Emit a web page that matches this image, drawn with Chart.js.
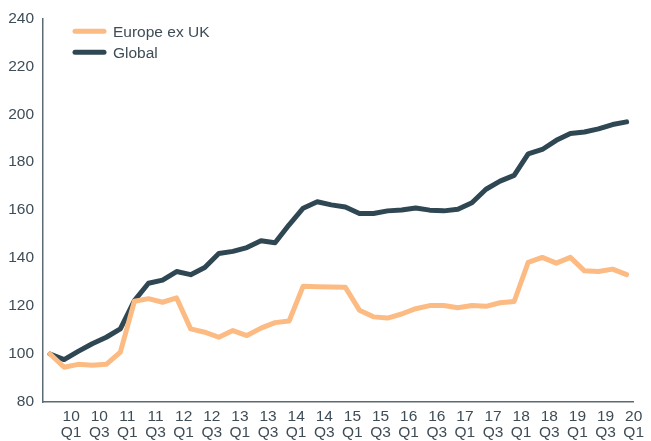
<!DOCTYPE html>
<html>
<head>
<meta charset="utf-8">
<script src="https://cdn.jsdelivr.net/npm/chart.js@4/dist/chart.umd.min.js"></script>
<style>
  html, body { margin: 0; padding: 0; background: #ffffff; }
  #wrap { width: 651px; height: 441px; position: relative; }
</style>
</head>
<body>
<div id="wrap"><canvas id="c"></canvas></div>
<script>
// Quarterly index values, 09 Q4 .. 20 Q1
const quarters = ['09 Q4',
  '10 Q1','10 Q2','10 Q3','10 Q4','11 Q1','11 Q2','11 Q3','11 Q4',
  '12 Q1','12 Q2','12 Q3','12 Q4','13 Q1','13 Q2','13 Q3','13 Q4',
  '14 Q1','14 Q2','14 Q3','14 Q4','15 Q1','15 Q2','15 Q3','15 Q4',
  '16 Q1','16 Q2','16 Q3','16 Q4','17 Q1','17 Q2','17 Q3','17 Q4',
  '18 Q1','18 Q2','18 Q3','18 Q4','19 Q1','19 Q2','19 Q3','19 Q4',
  '20 Q1'];
const europeExUK = [100, 94.5, 95.7, 95.3, 95.7, 100.8, 122.0, 123.1, 121.6, 123.4,
  110.5, 109.1, 107.0, 109.8, 107.7, 110.8, 113.1, 113.8, 128.3, 128.1,
  128.0, 127.8, 118.3, 115.5, 115.0, 116.7, 118.9, 120.2, 120.2, 119.3,
  120.2, 119.9, 121.4, 121.9, 138.2, 140.3, 137.9, 140.3, 134.7, 134.4,
  135.4, 133.1];
const globalIdx = [100, 97.7, 101.1, 104.3, 107.0, 110.5, 122.3, 129.5, 130.8, 134.4,
  133.1, 136.1, 141.9, 142.8, 144.4, 147.2, 146.4, 153.9, 160.8, 163.5,
  162.2, 161.3, 158.6, 158.6, 159.7, 160.1, 160.9, 160.0, 159.7, 160.4,
  163.1, 168.7, 172.1, 174.5, 183.5, 185.3, 189.1, 192.0, 192.6, 193.9,
  195.7, 196.8];
const tickLabels = ['10 Q1','10 Q3','11 Q1','11 Q3','12 Q1','12 Q3','13 Q1','13 Q3',
  '14 Q1','14 Q3','15 Q1','15 Q3','16 Q1','16 Q3','17 Q1','17 Q3',
  '18 Q1','18 Q3','19 Q1','19 Q3','20 Q1'];
const yTicks = [80, 100, 120, 140, 160, 180, 200, 220, 240];

const FONT = '"Liberation Sans", Arial, Helvetica, sans-serif';
const TXT = '#3e4c56';
const AXIS = '#5c6a73';

const toPts = arr => arr.map((v, i) => ({ x: i, y: v }));

const legendPlugin = {
  id: 'insideLegend',
  afterDraw(chart) {
    const ctx = chart.ctx;
    const a = chart.chartArea;
    ctx.save();
    chart.data.datasets.forEach((ds, i) => {
      const y = a.top + 13 + i * 21;
      const x0 = a.left + 32;
      ctx.strokeStyle = ds.borderColor;
      ctx.lineWidth = 5;
      ctx.lineCap = 'round';
      ctx.beginPath();
      ctx.moveTo(x0, y);
      ctx.lineTo(x0 + 29, y);
      ctx.stroke();
      ctx.fillStyle = TXT;
      ctx.font = '15.5px ' + FONT;
      ctx.textBaseline = 'middle';
      ctx.textAlign = 'left';
      ctx.fillText(ds.label, x0 + 38, y + 1);
    });
    ctx.restore();
  }
};

new Chart(document.getElementById('c'), {
  type: 'line',
  data: {
    datasets: [
      { label: 'Europe ex UK', data: toPts(europeExUK), borderColor: '#fdbb84',
        borderWidth: 5, pointRadius: 0, tension: 0, borderJoinStyle: 'round', borderCapStyle: 'round' },
      { label: 'Global', data: toPts(globalIdx), borderColor: '#2f4753',
        borderWidth: 5, pointRadius: 0, tension: 0, borderJoinStyle: 'round', borderCapStyle: 'round' }
    ]
  },
  options: {
    responsive: true,
    maintainAspectRatio: false,
    animation: false,
    layout: { padding: { top: 17, right: 13, bottom: 0, left: 0 } },
    plugins: { legend: { display: false }, tooltip: { enabled: false } },
    scales: {
      x: {
        type: 'linear',
        min: -0.5,
        max: 41.5,
        grid: { display: false, drawTicks: false },
        border: { display: true, color: AXIS, width: 1.5 },
        afterBuildTicks(scale) {
          scale.ticks = tickLabels.map((t, k) => ({ value: 1.5 + 2 * k }));
        },
        afterFit(scale) { scale.height = 39; },
        ticks: {
          autoSkip: false,
          maxRotation: 0,
          minRotation: 0,
          padding: 7,
          color: TXT,
          font: { family: FONT, size: 15.5, lineHeight: 1.0 },
          callback(value, index) {
            const t = tickLabels[index];
            return t ? t.split(' ') : '';
          }
        }
      },
      y: {
        min: 80,
        max: 240,
        grid: { display: false, drawTicks: false },
        border: { display: true, color: AXIS, width: 1.5 },
        afterBuildTicks(scale) {
          scale.ticks = yTicks.map(v => ({ value: v }));
        },
        afterFit(scale) { scale.width = 43; },
        ticks: {
          padding: 9,
          color: TXT,
          font: { family: FONT, size: 15.5 }
        }
      }
    }
  },
  plugins: [legendPlugin]
});
</script>
</body>
</html>
